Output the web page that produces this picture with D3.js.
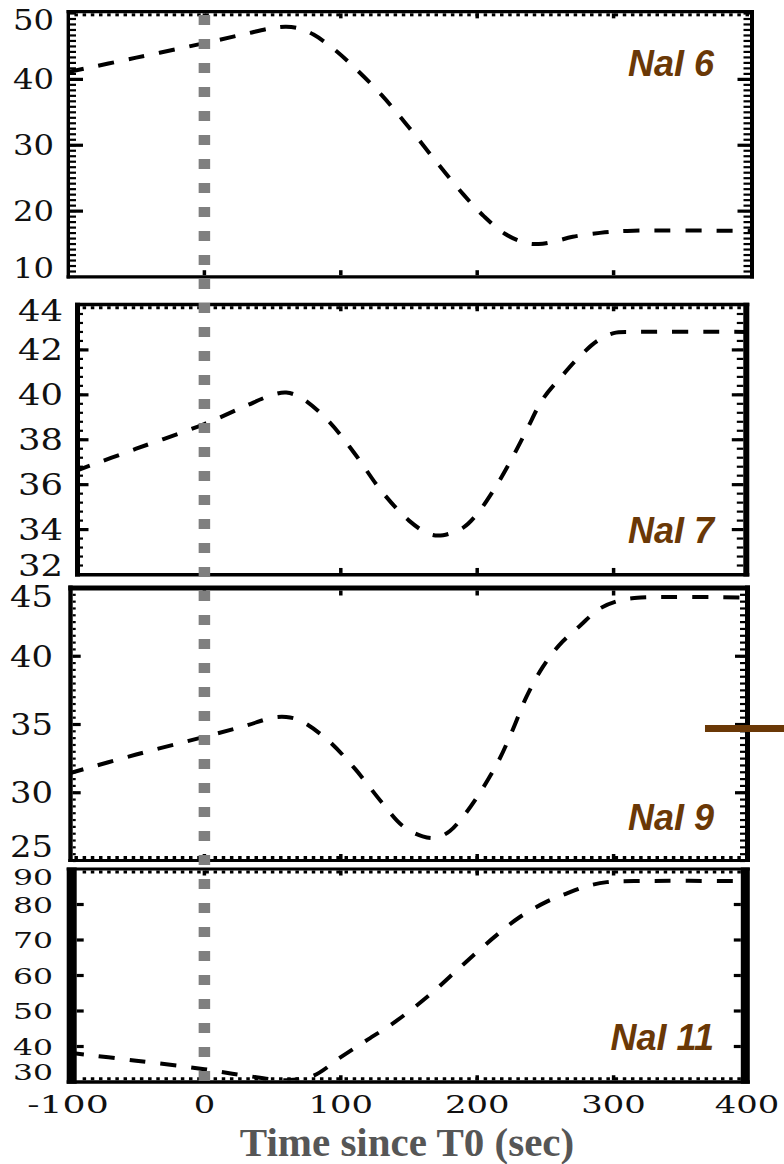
<!DOCTYPE html>
<html><head><meta charset="utf-8">
<script src="https://cdn.jsdelivr.net/npm/d3@7"></script>
<style>html,body{margin:0;padding:0;background:#fff}svg{display:block}</style>
</head><body><svg id="chart" width="784" height="1164"></svg>
<script>
// ---------------- data ----------------
const detectorNames = ["NaI 6", "NaI 7", "NaI 9", "NaI 11"];
const timeTickValues = [-100, 0, 100, 200, 300, 400];
const timeTickLabels = ["-100", "0", "100", "200", "300", "400"];
const xAxisTitle = "Time since T0 (sec)";
const triggerTime = 0;

const nai6Time  = [-100, -50, 0, 30, 50, 60, 70, 80, 95, 110, 130, 150, 170, 190, 205, 220, 235, 245, 255, 270, 290, 310, 400];
const nai6Value = [41.1, 43.3, 45.5, 46.9, 47.8, 48.0, 47.7, 46.8, 44.6, 41.8, 37.6, 32.7, 27.5, 22.5, 19.2, 16.6, 15.2, 15.0, 15.3, 16.1, 16.7, 17.0, 17.0];

const nai7Time  = [-95, -50, 0, 30, 50, 60, 70, 90, 110, 130, 150, 165, 175, 190, 200, 212, 224, 236, 248, 263, 275, 288, 300, 315, 400];
const nai7Value = [36.6, 37.6, 38.7, 39.5, 40.0, 40.1, 39.9, 38.9, 37.4, 35.7, 34.4, 33.8, 33.75, 34.1, 34.7, 35.75, 37.0, 38.4, 39.8, 40.9, 41.7, 42.4, 42.75, 42.8, 42.8];

const nai9Time  = [-100, -50, 0, 30, 50, 60, 70, 90, 110, 130, 145, 160, 170, 180, 190, 202, 216, 226, 236, 248, 260, 275, 290, 305, 320, 400];
const nai9Value = [31.4, 32.8, 34.1, 34.9, 35.5, 35.55, 35.3, 33.9, 31.8, 29.3, 27.6, 26.8, 26.7, 27.2, 28.3, 30.0, 32.4, 34.6, 37.0, 39.2, 40.8, 42.2, 43.5, 44.1, 44.3, 44.3];

const nai11Time  = [-100, -50, 0, 30, 60, 80, 100, 120, 140, 165, 190, 214, 231, 251, 265, 280, 295, 315, 400];
const nai11Value = [38.3, 36.0, 33.6, 31.8, 30.5, 31.8, 37.0, 42.0, 47.0, 54.5, 63.2, 71.3, 76.4, 80.8, 83.0, 85.1, 86.3, 86.6, 86.6];

const nai6Domain = [10, 50],  nai6Ticks = [10, 20, 30, 40, 50];
const nai7Domain = [32, 44],  nai7Ticks = [32, 34, 36, 38, 40, 42, 44];
const nai9Domain = [25, 45],  nai9Ticks = [25, 30, 35, 40, 45];
const nai11Domain = [30, 90], nai11Ticks = [30, 40, 50, 60, 70, 80, 90];

const markerValue = 34.7;          // brown marker level (NaI 9 panel)
const markerTimes = [367, 430];

// ---------------- layout ----------------
const svg = d3.select("#chart");
const x = d3.scaleLinear().domain([-100, 400]).range([68, 750]);
const brown = "#6a3806";

const panels = [
  { name: detectorNames[0], t: nai6Time, v: nai6Value, domain: nai6Domain, ticks: nai6Ticks, minorStep: 10/12,
    yr: [277, 13.5], lx: 68.3, lw: 3.4, rx: 752, rw: 4, ty: 11.7, tw: 3.3, by: 276.8, bw: 3.2,
    majL: 13, minL: 6, majR: 12.5, minR: 6.5, minTop: true, minBot: false,
    pad: [7, 9], fs: 27, dw: 20.5, labRight: 54, nameY: 76 },
  { name: detectorNames[1], t: nai7Time, v: nai7Value, domain: nai7Domain, ticks: nai7Ticks, minorStep: 0.4,
    yr: [574.5, 305], lx: 77.5, lw: 5, rx: 746.3, rw: 6, ty: 304.5, tw: 3.5, by: 574.7, bw: 3.5,
    majL: 8.5, minL: 3, majR: 11.5, minR: 6.5, minTop: true, minBot: false,
    pad: [6, 9], fs: 29, dw: 22.5, labRight: 63, nameY: 543 },
  { name: detectorNames[2], t: nai9Time, v: nai9Value, domain: nai9Domain, ticks: nai9Ticks, minorStep: 0.5,
    yr: [861, 588], lx: 70.5, lw: 4.4, rx: 747.5, rw: 5, ty: 588, tw: 5, by: 860.5, bw: 3,
    majL: 8, minL: 3, majR: 10, minR: 5, minTop: false, minBot: true,
    pad: [9, 14], fs: 29, dw: 21.5, labRight: 53, nameY: 830 },
  { name: detectorNames[3], t: nai11Time, v: nai11Value, domain: nai11Domain, ticks: nai11Ticks, minorStep: null,
    yr: [1082, 869], lx: 71.7, lw: 10, rx: 745.3, rw: 9, ty: 869, tw: 3, by: 1082, bw: 3.5,
    majL: 7, minL: 0, majR: 7, minR: 0, minTop: true, minBot: true,
    pad: [8, 10], fs: 23, dw: 20, labRight: 53, nameY: 1050 }
];

const defs = svg.append("defs");

panels.forEach((p, i) => {
  const y = d3.scaleLinear().domain(p.domain).range(p.yr);
  const g = svg.append("g").attr("class", "panel");
  const innerL = p.lx + p.lw / 2, innerR = p.rx - p.rw / 2;
  const innerT = p.ty + p.tw / 2, innerB = p.by - p.bw / 2;

  defs.append("clipPath").attr("id", "clip" + i).append("rect")
    .attr("x", innerL - 2).attr("y", innerT).attr("width", innerR - innerL + 4).attr("height", innerB - innerT);

  // data curve
  const pts = p.t.map((t, k) => ({ t, v: p.v[k] }));
  const line = d3.line().x(d => x(d.t)).y(d => y(d.v)).curve(d3.curveCatmullRom.alpha(0.5));
  g.append("path").datum(pts).attr("d", line)
    .attr("clip-path", `url(#clip${i})`)
    .attr("fill", "none").attr("stroke", "#000").attr("stroke-width", 4)
    .attr("stroke-dasharray", "16,15");

  // y ticks (left & right)
  if (p.minorStep) {
    const minors = d3.range(p.domain[0], p.domain[1] + 1e-6, p.minorStep);
    g.selectAll(null).data(minors).join("line")
      .attr("x1", innerL).attr("x2", innerL + p.minL)
      .attr("y1", d => y(d)).attr("y2", d => y(d))
      .attr("stroke", "#000").attr("stroke-width", 2.2);
    g.selectAll(null).data(minors).join("line")
      .attr("x1", innerR).attr("x2", innerR - p.minR)
      .attr("y1", d => y(d)).attr("y2", d => y(d))
      .attr("stroke", "#000").attr("stroke-width", 2.2);
  }
  const majors = p.ticks.filter(d => d > p.domain[0] && d < p.domain[1]);
  g.selectAll(null).data(majors).join("line")
    .attr("x1", innerL).attr("x2", innerL + p.majL)
    .attr("y1", d => y(d)).attr("y2", d => y(d))
    .attr("stroke", "#000").attr("stroke-width", 3.2);
  g.selectAll(null).data(majors).join("line")
    .attr("x1", innerR).attr("x2", innerR - p.majR)
    .attr("y1", d => y(d)).attr("y2", d => y(d))
    .attr("stroke", "#000").attr("stroke-width", 3.2);

  // x ticks (top & bottom)
  const xMinors = d3.range(-100, 400, 6).filter(d => x(d) > innerL + 1 && x(d) < innerR - 1);
  if (p.minTop) g.selectAll(null).data(xMinors).join("line")
    .attr("x1", d => x(d)).attr("x2", d => x(d)).attr("y1", innerT).attr("y2", innerT + 3)
    .attr("stroke", "#000").attr("stroke-width", 3.5);
  if (p.minBot) g.selectAll(null).data(xMinors).join("line")
    .attr("x1", d => x(d)).attr("x2", d => x(d)).attr("y1", innerB).attr("y2", innerB - 3)
    .attr("stroke", "#000").attr("stroke-width", 3.5);
  const xMajors = timeTickValues.filter(d => x(d) > innerL + 2 && x(d) < innerR - 2);
  g.selectAll(null).data(xMajors).join("line")
    .attr("x1", d => x(d)).attr("x2", d => x(d)).attr("y1", innerT).attr("y2", innerT + 5)
    .attr("stroke", "#000").attr("stroke-width", 3.5);
  g.selectAll(null).data(xMajors).join("line")
    .attr("x1", d => x(d)).attr("x2", d => x(d)).attr("y1", innerB).attr("y2", innerB - 5)
    .attr("stroke", "#000").attr("stroke-width", 3.5);

  // borders
  const bx0 = p.lx - p.lw / 2, bx1 = p.rx + p.rw / 2;
  g.append("line").attr("x1", bx0).attr("x2", bx1).attr("y1", p.ty).attr("y2", p.ty).attr("stroke", "#000").attr("stroke-width", p.tw);
  g.append("line").attr("x1", bx0).attr("x2", bx1).attr("y1", p.by).attr("y2", p.by).attr("stroke", "#000").attr("stroke-width", p.bw);
  g.append("line").attr("x1", p.lx).attr("x2", p.lx).attr("y1", p.ty - p.tw / 2).attr("y2", p.by + p.bw / 2).attr("stroke", "#000").attr("stroke-width", p.lw);
  g.append("line").attr("x1", p.rx).attr("x2", p.rx).attr("y1", p.ty - p.tw / 2).attr("y2", p.by + p.bw / 2).attr("stroke", "#000").attr("stroke-width", p.rw);

  // y tick labels
  const top = Math.min(...p.yr), bot = Math.max(...p.yr);
  g.selectAll(null).data(p.ticks).join("text")
    .attr("x", p.labRight)
    .attr("y", d => Math.max(top + p.pad[0], Math.min(bot - p.pad[1], y(d))))
    .attr("dy", "0.36em")
    .attr("text-anchor", "end")
    .attr("font-family", "'DejaVu Serif', serif")
    .attr("font-size", p.fs)
    .attr("fill", "#111")
    .attr("textLength", d => String(d).length * p.dw)
    .attr("lengthAdjust", "spacingAndGlyphs")
    .text(d => d);

  // detector label
  g.append("text")
    .attr("x", 714).attr("y", p.nameY)
    .attr("text-anchor", "end")
    .attr("font-family", "'Liberation Sans', Arial, sans-serif")
    .attr("font-weight", "bold").attr("font-style", "italic")
    .attr("font-size", 36).attr("fill", brown)
    .text(p.name);

  if (i === 2) {
    g.append("line")
      .attr("x1", x(markerTimes[0])).attr("x2", x(markerTimes[1]))
      .attr("y1", y(markerValue)).attr("y2", y(markerValue))
      .attr("stroke", brown).attr("stroke-width", 7);
  }
});

// x tick labels
svg.append("g").selectAll(null).data(timeTickValues).join("text")
  .attr("x", d => Math.min(x(d), 747))
  .attr("y", 1113)
  .attr("text-anchor", "middle")
  .attr("font-family", "'DejaVu Serif', serif")
  .attr("font-size", 24)
  .attr("fill", "#111")
  .attr("textLength", (d, k) => {
    const s = timeTickLabels[k];
    return s.replace("-", "").length * 21.5 + (s.includes("-") ? 17 : 0);
  })
  .attr("lengthAdjust", "spacingAndGlyphs")
  .text((d, k) => timeTickLabels[k]);

// axis title
svg.append("text")
  .attr("x", 407).attr("y", 1156)
  .attr("text-anchor", "middle")
  .attr("font-family", "'Liberation Serif', 'Times New Roman', serif")
  .attr("font-weight", "bold")
  .attr("font-size", 41)
  .attr("fill", "#565656")
  .text(xAxisTitle);

// trigger time (T0) dotted gray line spanning all panels
svg.append("line")
  .attr("x1", x(triggerTime)).attr("x2", x(triggerTime))
  .attr("y1", 15).attr("y2", 1087)
  .attr("stroke", "#7f7f7f").attr("stroke-width", 11.5)
  .attr("stroke-dasharray", "10,14");
</script>
</body></html>
